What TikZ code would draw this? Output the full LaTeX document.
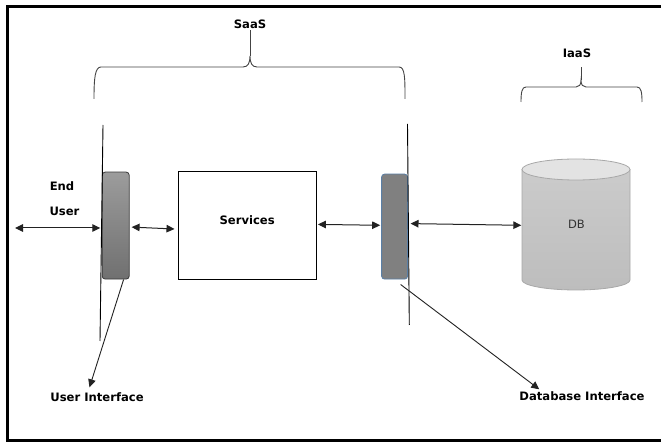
\documentclass[tikz,border=0pt]{standalone}
\usepackage{fontspec}
\setmainfont{DejaVu Sans}
\usetikzlibrary{arrows.meta,calc}
\definecolor{uitop}{HTML}{9C9C9C}
\definecolor{uibot}{HTML}{707070}
\definecolor{uiedge}{HTML}{3A3A3A}
\definecolor{dbifill}{HTML}{808080}
\definecolor{dbiedge}{HTML}{5A7FA6}
\definecolor{cyltop}{HTML}{CBCBCB}
\definecolor{cylbot}{HTML}{BDBDBD}
\definecolor{cylcap}{HTML}{E3E3E3}
\definecolor{cyledge}{HTML}{A8A8A8}
\definecolor{linec}{HTML}{222222}
\definecolor{bracec}{HTML}{444444}
\tikzset{
  lbl/.style={font=\fontsize{11.6}{13}\selectfont\bfseries, text=black, inner sep=1pt},
  dblbl/.style={font=\fontsize{11.5}{13}\selectfont, text=black!80},
  svcbox/.style={draw=black, line width=0.9pt, fill=white, minimum width=138.5pt, minimum height=108pt, inner sep=0pt},
  uibar/.style={draw=uiedge, line width=0.8pt, top color=uitop, bottom color=uibot, rounded corners=3pt, minimum width=27pt, minimum height=107pt, inner sep=0pt},
  dbibar/.style={draw=dbiedge, line width=0.8pt, fill=dbifill, rounded corners=3pt, minimum width=26pt, minimum height=105pt, inner sep=0pt},
  vline/.style={draw=black, line width=0.9pt},
  bracel/.style={draw=bracec, line width=0.9pt},
  biarr/.style={draw=linec, line width=1pt, {Triangle[length=8pt,width=7.5pt]}-{Triangle[length=8pt,width=7.5pt]}},
  ptr/.style={draw=linec, line width=0.9pt, -{Triangle[length=8pt,width=7.5pt]}},
}
\begin{document}
\begin{tikzpicture}[x=1pt,y=-1pt]
\useasboundingbox (0,0) rectangle (661,443);
\fill[white] (0,0) rectangle (661,443);
% frame
\draw[line width=2.5pt, black] (663,6.3) -- (7.3,6.3) -- (7.3,440.5) -- (663,440.5);

% DB cylinder drawing
\path[draw=cyledge, line width=0.8pt, top color=cyltop, bottom color=cylbot]
  (522,169.5) -- (522,280)
  .. controls (522,285.5) and (546.2,290) .. (576,290)
  .. controls (605.8,290) and (630,285.5) .. (630,280)
  -- (630,169.5) -- cycle;
\draw[cyledge, line width=0.8pt, fill=cylcap] (576,169.5) ellipse [x radius=54, y radius=10.5];
\node[dblbl, minimum width=108pt, minimum height=131pt, inner sep=0pt] (db) at (576.5,224.5) {DB};

% boxes
\node[svcbox, label={[lbl, yshift=5pt]center:Services}] (svc) at (247.2,225.2) {};
\node[uibar] (ui) at (115.7,225.6) {};
\node[dbibar] (dbi) at (394.6,226.6) {};

% vertical lines
\coordinate (l1t) at (103,125);
\coordinate (l1b) at (100,341);
\coordinate (l2t) at (407.5,124);
\coordinate (l2b) at (409.3,325);
\draw[vline] (l1t) -- (l1b);
\draw[vline] (l2t) -- (l2b);

% labels
\node[lbl] (saas) at (250,24) {SaaS};
\node[lbl] (iaas) at (577,53) {IaaS};
\node[lbl] (end) at (62,186) {End};
\node[lbl] (user) at (64.5,211.5) {User};
\node[lbl] (uil) at (97,397) {User Interface};
\node[lbl] (dbil) at (582,396) {Database Interface};

% braces
\draw[bracel] (94,99) .. controls (94,78) and (95,67) .. (101,67) -- (243,67)
  .. controls (248,67) and (250,63) .. (250,56)
  .. controls (250,63) and (252,67) .. (257,67) -- (399,67)
  .. controls (405,67) and (405,78) .. (405,99);
\draw[bracel] (250,56) -- (saas.south);
\draw[bracel] (521,102) .. controls (521,92) and (522,87) .. (526,87) -- (576,87)
  .. controls (579,87) and (581,85) .. (581,80)
  .. controls (581,85) and (583,87) .. (586,87) -- (637,87)
  .. controls (641,87) and (642,92) .. (642,102);
\draw[bracel] (581,80) -- (581,67);

% connectors
\coordinate (eu) at (15,228);
\draw[biarr] (eu) -- ($(eu -| ui.west)+(-1.5,0)$);
\draw[biarr] ($(ui.east)+(2,1.5)$) -- ($(svc.west)+(-3,3.8)$);
\draw[biarr] ($(svc.east)+(1,-0.8)$) -- ($(dbi.west)+(-1,-1.3)$);
\draw[biarr] ($(dbi.east)+(2.5,-3)$) -- ($(db.west)+(-1,0.8)$);
\draw[ptr] ($(ui.south east)+(-6,0)$) -- ($(uil.north)+(-7.5,-4)$);
\draw[ptr] ($(dbi.south)+(6,5)$) -- ($(dbil.north west)+(21,-1)$);
\end{tikzpicture}
\end{document}
